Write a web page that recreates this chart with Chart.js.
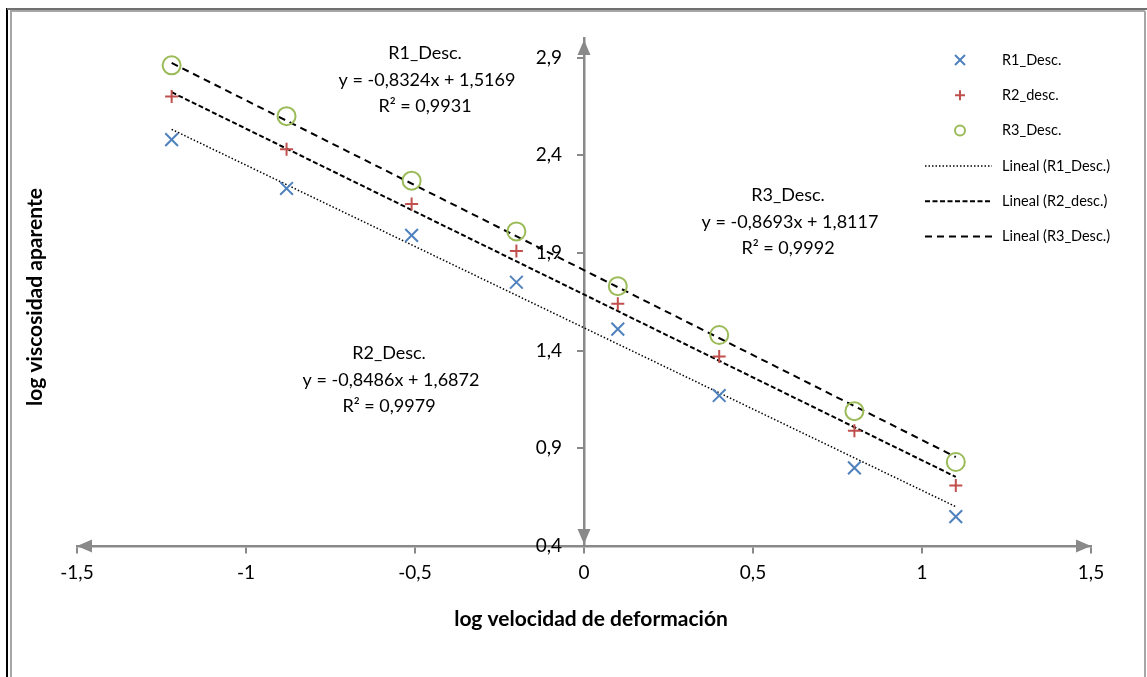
<!DOCTYPE html>
<html>
<head>
<meta charset="utf-8">
<script src="https://cdn.jsdelivr.net/npm/chart.js@4/dist/chart.umd.min.js"></script>
<style>
  html, body { margin: 0; padding: 0; background: #fff; }
  #wrap { width: 1147px; height: 677px; position: relative; }
</style>
</head>
<body>
<div id="wrap"><canvas id="chart"></canvas></div>
<script>
// log shear rate (x) and log apparent viscosity for the three runs
const logShear = [-1.22, -0.88, -0.51, -0.2, 0.1, 0.4, 0.8, 1.1];
const r1Desc = [2.48, 2.23, 1.99, 1.75, 1.51, 1.17, 0.80, 0.55];
const r2Desc = [2.70, 2.43, 2.15, 1.91, 1.64, 1.37, 0.99, 0.71];
const r3Desc = [2.86, 2.60, 2.27, 2.01, 1.73, 1.48, 1.09, 0.83];

// trend line equations shown on the chart
const seriesNames = ['R1_Desc.', 'R2_desc.', 'R3_Desc.'];
const labelNames = ['R1_Desc.', 'R2_Desc.', 'R3_Desc.'];
const slopes = [-0.8324, -0.8486, -0.8693];
const intercepts = [1.5169, 1.6872, 1.8117];
const rSquared = [0.9931, 0.9979, 0.9992];

const xTicks = [-1.5, -1, -0.5, 0, 0.5, 1, 1.5];
const yTicks = [0.4, 0.9, 1.4, 1.9, 2.4, 2.9];

const FONT = 'Lato, "Open Sans", sans-serif';
const AXIS = '#898989';
const comma = v => String(v).replace('.', ',');

const trend = i => [logShear[0], logShear[logShear.length - 1]]
  .map(x => ({ x: x, y: slopes[i] * x + intercepts[i] }));
const pts = ys => logShear.map((x, i) => ({ x: x, y: ys[i] }));

const eqText = i => 'y = ' + comma(slopes[i].toFixed(4)) + 'x + ' + comma(intercepts[i].toFixed(4));
const r2Text = i => 'R\u00b2 = ' + comma(rSquared[i].toFixed(4));

function arrow(c, x, y, dx, dy) {
  // tip at (x,y), pointing in direction (dx,dy)
  const len = 15, half = 6.5;
  c.beginPath();
  c.moveTo(x, y);
  c.lineTo(x - dx * len - dy * half, y - dy * len + dx * half);
  c.lineTo(x - dx * len + dy * half, y - dy * len - dx * half);
  c.closePath();
  c.fill();
}

function marker(c, style, x, y) {
  c.beginPath();
  if (style === 'crossRot') {
    const r = 5;
    c.strokeStyle = '#4F81BD';
    c.moveTo(x - r, y - r); c.lineTo(x + r, y + r);
    c.moveTo(x + r, y - r); c.lineTo(x - r, y + r);
  } else if (style === 'cross') {
    const r = 5;
    c.strokeStyle = '#C0504D';
    c.moveTo(x - r, y); c.lineTo(x + r, y);
    c.moveTo(x, y - r); c.lineTo(x, y + r);
  } else {
    c.strokeStyle = '#9BBB59';
    c.arc(x, y, 5, 0, Math.PI * 2);
  }
  c.lineWidth = 2;
  c.stroke();
}

const decor = {
  id: 'decor',
  beforeDraw(chart) {
    const c = chart.ctx;
    c.save();
    c.fillStyle = '#fff';
    c.fillRect(0, 0, chart.width, chart.height);
    // outer frame
    c.lineWidth = 2;
    c.strokeStyle = '#000';
    c.beginPath(); c.moveTo(7, 8); c.lineTo(7, 677); c.stroke();
    c.strokeStyle = '#707070';
    c.beginPath(); c.moveTo(7, 9); c.lineTo(1147, 9); c.stroke();
    c.strokeStyle = '#a6a6a6';
    c.beginPath(); c.moveTo(11, 10); c.lineTo(11, 677); c.stroke();
    c.beginPath(); c.moveTo(11, 11); c.lineTo(1145, 11); c.stroke();
    c.beginPath(); c.moveTo(1145, 11); c.lineTo(1145, 677); c.stroke();
    c.restore();
  },
  afterDraw(chart) {
    const c = chart.ctx;
    const xs = chart.scales.x, ys = chart.scales.y;
    const ax = xs.getPixelForValue(0), ay = ys.getPixelForValue(0.4);
    c.save();
    // axis arrows
    c.fillStyle = AXIS;
    arrow(c, xs.left, ay, -1, 0);
    arrow(c, xs.right, ay, 1, 0);
    arrow(c, ax, ys.top + 2, 0, -1);
    arrow(c, ax, ys.bottom - 2, 0, 1);

    // y tick labels, set off to the left of the centred axis
    c.fillStyle = '#000';
    c.font = '19px ' + FONT;
    c.textAlign = 'right';
    c.textBaseline = 'middle';
    yTicks.forEach(v => c.fillText(comma(v), ax - 22, ys.getPixelForValue(v)));

    // axis titles
    c.textAlign = 'center';
    c.font = 'bold 21px ' + FONT;
    c.fillText('log velocidad de deformación', 591, 619);
    c.save();
    c.translate(35, 297);
    c.rotate(-Math.PI / 2);
    c.fillText('log viscosidad aparente', 0, 0);
    c.restore();

    // trend line labels
    c.font = '18px ' + FONT;
    const notes = [[425, 53], [389, 353], [788, 195]];
    notes.forEach((p, i) => {
      c.fillText(labelNames[i], p[0], p[1]);
      c.fillText(eqText(i), p[0] + 2, p[1] + 27);
      c.fillText(r2Text(i), p[0], p[1] + 53);
    });

    // legend
    c.font = '14.5px ' + FONT;
    c.textAlign = 'left';
    const styles = ['crossRot', 'cross', 'circle'];
    const dashes = [[1.5, 2], [5, 2.5], [7, 5]];
    for (let i = 0; i < 3; i++) {
      const y = 60 + i * 35.3;
      marker(c, styles[i], 960, y);
      c.fillStyle = '#000';
      c.fillText(seriesNames[i], 1002, y);
    }
    for (let i = 0; i < 3; i++) {
      const y = 166 + i * 35.3;
      c.strokeStyle = '#000';
      c.lineWidth = i === 0 ? 1.5 : 2;
      c.setLineDash(dashes[i]);
      c.beginPath(); c.moveTo(925, y); c.lineTo(992, y); c.stroke();
      c.setLineDash([]);
      c.fillText('Lineal (' + seriesNames[i] + ')', 1002, y);
    }
    c.restore();
  }
};

new Chart(document.getElementById('chart'), {
  type: 'scatter',
  data: {
    datasets: [
      { label: seriesNames[0], data: pts(r1Desc), pointStyle: 'crossRot', pointRadius: 9,
        borderColor: '#4F81BD', backgroundColor: '#4F81BD', pointBorderWidth: 2 },
      { label: seriesNames[1], data: pts(r2Desc), pointStyle: 'cross', pointRadius: 6.5,
        borderColor: '#C0504D', backgroundColor: '#C0504D', pointBorderWidth: 2 },
      { label: seriesNames[2], data: pts(r3Desc), pointStyle: 'circle', pointRadius: 9,
        borderColor: '#9BBB59', backgroundColor: 'rgba(0,0,0,0)', pointBorderWidth: 2 },
      { label: 'Lineal (R1_Desc.)', data: trend(0), showLine: true, pointRadius: 0,
        borderColor: '#000', borderWidth: 1.5, borderDash: [1.5, 2] },
      { label: 'Lineal (R2_desc.)', data: trend(1), showLine: true, pointRadius: 0,
        borderColor: '#000', borderWidth: 2, borderDash: [5, 2.5] },
      { label: 'Lineal (R3_Desc.)', data: trend(2), showLine: true, pointRadius: 0,
        borderColor: '#000', borderWidth: 2, borderDash: [7, 5] }
    ]
  },
  options: {
    responsive: true,
    maintainAspectRatio: false,
    animation: false,
    layout: { padding: { left: 77, right: 56, top: 38, bottom: 131 } },
    plugins: { legend: { display: false }, tooltip: { enabled: false } },
    scales: {
      x: {
        type: 'linear', min: -1.5, max: 1.5, position: { y: 0.4 },
        afterBuildTicks: s => { s.ticks = xTicks.map(v => ({ value: v })); },
        ticks: { callback: comma, color: '#000', font: { family: FONT, size: 19 }, padding: 9, maxRotation: 0 },
        grid: { drawOnChartArea: false, drawTicks: true, tickLength: 6, color: AXIS, lineWidth: 2 },
        border: { color: AXIS, width: 2.5 }
      },
      y: {
        type: 'linear', min: 0.4, max: 3.0, position: { x: 0 },
        afterBuildTicks: s => { s.ticks = yTicks.map(v => ({ value: v })); },
        ticks: { display: false },
        grid: { drawOnChartArea: false, drawTicks: true, tickLength: 6, color: AXIS, lineWidth: 2 },
        border: { color: AXIS, width: 2.5 }
      }
    }
  },
  plugins: [decor]
});
</script>
</body>
</html>
